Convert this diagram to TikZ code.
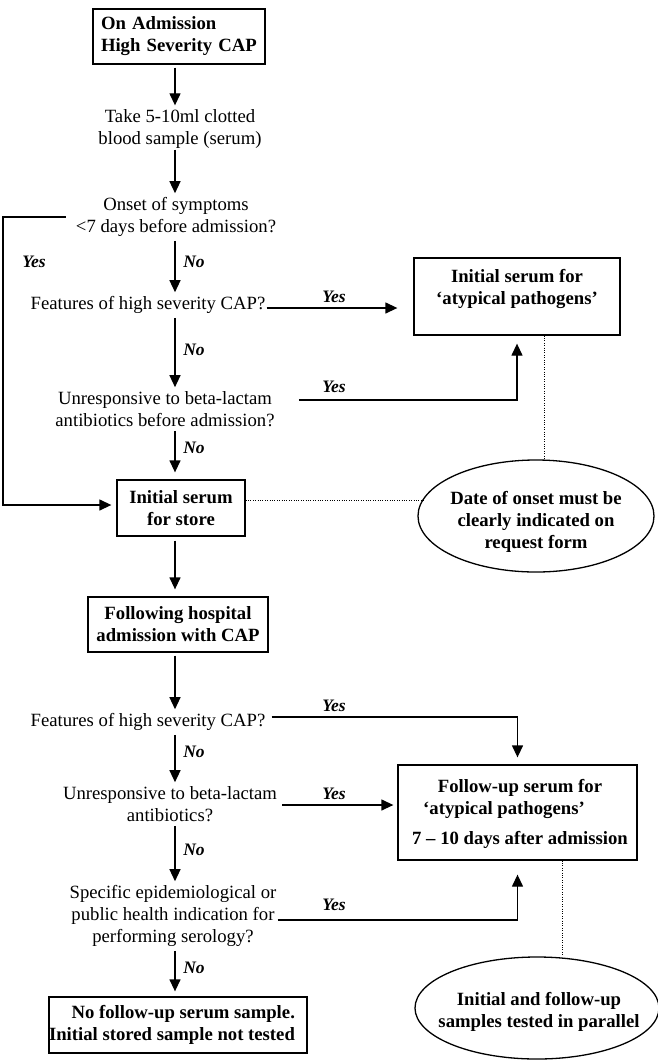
\documentclass[tikz,border=0pt]{standalone}
\usepackage{fontspec}
\setmainfont{Liberation Serif}
\usetikzlibrary{arrows.meta,shapes.geometric,calc}
\begin{document}
\begin{tikzpicture}[x=1pt,y=-1pt,
  every node/.style={font=\fontsize{18.7}{22}\selectfont, inner sep=1pt},
  txt/.style={align=center},
  bx/.style={draw, line width=1.3pt, font=\fontsize{18.7}{22}\selectfont\bfseries, align=center, inner sep=0pt},
  bt/.style={font=\fontsize{18.7}{22}\selectfont\bfseries, align=center, inner sep=0pt},
  oval/.style={draw, ellipse, line width=1.3pt, inner sep=0pt},
  lbl/.style={font=\fontsize{17.5}{20}\selectfont\bfseries\itshape, inner sep=0pt},
  arr/.style={line width=1.3pt, -{Triangle[length=12pt,width=11pt]}},
  dots/.style={line width=1pt, dash pattern=on 1pt off 1.4pt}]
\useasboundingbox (0,0) rectangle (657,1061);
\coordinate (spine) at (175,0);
\coordinate (rail) at (12,0);
% left column
\node[bx, minimum width=172pt, minimum height=55pt, text width=156pt, align=left] (b1) at (179,36.5) {On Admission\\High Severity CAP};
\node[txt] (t1) at (180,129) {Take 5-10ml clotted\\blood sample (serum)};
\node[txt] (q1) at (176,217) {Onset of symptoms\\<7 days before admission?};
\node (q2) at (148,305) {Features of high severity CAP?};
\node[txt] (q3) at (165,409) {Unresponsive to beta-lactam\\antibiotics before admission?};
\node[bx, minimum width=128pt, minimum height=56pt] (store) at (181,508) {Initial serum\\for store};
\node[bx, minimum width=180pt, minimum height=55pt] (fh) at (178,624.5) {Following hospital\\admission with CAP};
\node (q4) at (148,722) {Features of high severity CAP?};
\node[txt] (q5) at (170,804) {Unresponsive to beta-lactam\\antibiotics?};
\node[txt] (q6) at (173,916) {Specific epidemiological or\\public health indication for\\performing serology?};
\node[bx, minimum width=258pt, minimum height=56pt, align=right] (nf) at (178,1025) {No follow-up serum sample.\makebox[12pt]{}\\Initial stored sample not tested\makebox[12pt]{}};
% right column
\node[bx, minimum width=206pt, minimum height=77pt] (ia) at (517,296.5) {};
\node[bt] (iat) at (517,289) {Initial serum for\\`atypical pathogens'};
\node[oval, minimum width=236pt, minimum height=112pt] (e1) at (536,516) {};
\node[bt] (e1t) at (536,522) {Date of onset must be\\clearly indicated on\\request form};
\node[bx, minimum width=239pt, minimum height=95pt] (fu) at (517.5,812.5) {};
\node[bt] (fut) at (520,814) {Follow-up serum for\\`atypical pathogens'\makebox[32pt]{}\\[8pt]7 -- 10 days after admission};
\node[oval, minimum width=244pt, minimum height=102pt] (e2) at (537,1008) {};
\node[bt] (e2t) at (539,1012) {Initial and follow-up\\samples tested in parallel};
% main spine arrows
\draw[arr, shorten <=3pt, shorten >=3pt] (b1.south -| spine) -- (t1.north -| spine);
\draw[arr, shorten >=3pt] (t1.south -| spine) -- (q1.north -| spine);
\draw[arr, shorten <=3pt, shorten >=3pt] (q1.south -| spine) -- (q2.north -| spine);
\draw[arr, shorten <=3pt, shorten >=3pt] (q2.south -| spine) -- (q3.north -| spine);
\draw[arr, shorten <=3pt, shorten >=7pt] (q3.south -| spine) -- (store.north -| spine);
\draw[arr, shorten <=4pt, shorten >=7pt] (store.south -| spine) -- (fh.north -| spine);
\draw[arr, shorten <=3pt, shorten >=3pt] (fh.south -| spine) -- (q4.north -| spine);
\draw[arr, shorten <=3pt, shorten >=3pt] (q4.south -| spine) -- (q5.north -| spine);
\draw[arr, shorten <=3pt, shorten >=3pt] (q5.south -| spine) -- (q6.north -| spine);
\draw[arr, shorten <=3pt, shorten >=5pt] (q6.south -| spine) -- (nf.north -| spine);
% No labels
\node[lbl] (n1) at (194,262) {No};
\node[lbl] (n2) at (194,350) {No};
\node[lbl] (n3) at (194,448) {No};
\node[lbl] (n4) at (194,752) {No};
\node[lbl] (n5) at (194,850) {No};
\node[lbl] (n6) at (194,968) {No};
% Yes branches
\draw[arr] ([xshift=-9pt]q1.west) -- ([xshift=-9pt]q1.west -| rail) |- ([shift={(-5pt,3pt)}]store.west);
\node[lbl] (y0) at (34,262) {Yes};
\draw[arr, shorten >=16pt] ([yshift=-3pt]q2.east) -- ([yshift=-3pt]q2.east -| ia.west);
\node[lbl] (y1) at (334,297) {Yes};
\draw[arr, shorten >=8pt] ([shift={(23pt,9pt)}]q3.east) -| (ia.south);
\node[lbl] (y2) at (334,387) {Yes};
\draw[arr, shorten >=7pt] ([shift={(5pt,5pt)}]q4.east) -| (fu.north);
\node[lbl] (y3) at (334,706) {Yes};
\draw[arr, shorten >=8pt] ([shift={(4pt,-1pt)}]q5.east) -- ([shift={(4pt,-1pt)}]q5.east -| fu.west);
\node[lbl] (y4) at (334,794) {Yes};
\draw[arr, shorten >=14pt] ([yshift=-4pt]q6.east) -| (fu.south);
\node[lbl] (y5) at (334,905) {Yes};
% dotted notes
\draw[dots] ([xshift=27pt]ia.south) -- ([xshift=27pt]ia.south |- e1.north);
\draw[dots] ([yshift=8pt]store.east) -- ([yshift=8pt]store.east -| e1.170);
\draw[dots] ([xshift=44.5pt]fu.south) -- ([xshift=44.5pt]fu.south |- e2.north);
\end{tikzpicture}
\end{document}
